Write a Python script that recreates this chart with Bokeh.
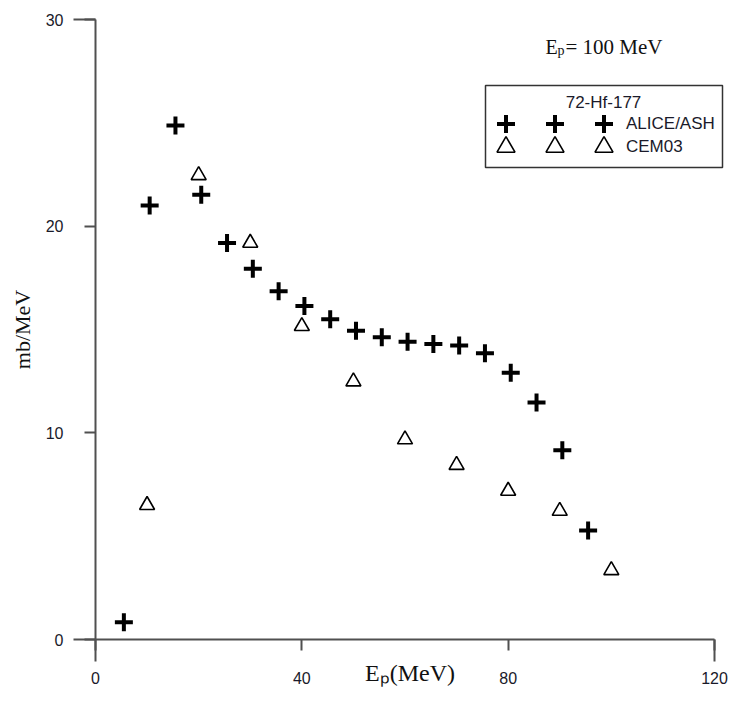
from bokeh.plotting import figure
from bokeh.models import FixedTicker, Range1d, Label, Legend, LegendItem, BoxAnnotation
from bokeh.embed import file_html
from bokeh.resources import INLINE

# ---- data ----
alice_x = [5.5, 10.5, 15.5, 20.5, 25.5, 30.5, 35.5, 40.5, 45.5, 50.5,
           55.5, 60.5, 65.5, 70.5, 75.5, 80.5, 85.5, 90.5, 95.5]
alice_y = [0.84, 21.0, 24.87, 21.52, 19.18, 17.94, 16.85, 16.14, 15.50, 14.94,
           14.62, 14.41, 14.30, 14.22, 13.85, 12.91, 11.47, 9.16, 5.28]
cem_x = [10, 20, 30, 40, 50, 60, 70, 80, 90, 100]
cem_y = [6.5, 22.46, 19.19, 15.16, 12.48, 9.68, 8.44, 7.19, 6.22, 3.35]
x_ticks = [0, 40, 80, 120]
y_ticks = [0, 10, 20, 30]
legend_title = "72-Hf-177"
series_names = ["ALICE/ASH", "CEM03"]

AX = "#505050"
TXT = "#1a1a2a"
SERIF = "Liberation Serif"
SANS = "Liberation Sans"

p = figure(width=728, height=715, output_backend="svg", toolbar_location=None,
           x_range=Range1d(0, 121.94), y_range=Range1d(0, 30),
           min_border_left=95, min_border_right=4, min_border_top=19,
           min_border_bottom=76)
p.outline_line_color = None
p.grid.visible = False
p.background_fill_color = "white"
p.border_fill_color = "white"

p.xaxis.ticker = FixedTicker(ticks=x_ticks, minor_ticks=[x_ticks[0], x_ticks[-1]])
p.yaxis.ticker = FixedTicker(ticks=y_ticks, minor_ticks=[y_ticks[0], y_ticks[-1]])
p.xaxis.bounds = (x_ticks[0], x_ticks[-1])
for ax in (p.xaxis, p.yaxis):
    ax.axis_line_color = AX
    ax.axis_line_width = 2
    ax.major_tick_line_color = AX
    ax.major_tick_line_width = 2
    ax.minor_tick_line_color = AX
    ax.minor_tick_line_width = 2
    ax.major_tick_in = 0
    ax.major_tick_out = 11
    ax.minor_tick_in = 0
    ax.minor_tick_out = 22
    ax.major_label_text_font = SANS
    ax.major_label_text_font_size = "16px"
    ax.major_label_text_color = TXT
    ax.axis_label_text_font = SERIF
    ax.axis_label_text_font_style = "normal"
    ax.axis_label_text_color = "#111"
p.xaxis.major_label_standoff = 10
p.yaxis.major_label_standoff = 10

p.yaxis.axis_label = "mb/MeV"
p.yaxis.axis_label_text_font_size = "22px"
p.yaxis.axis_label_standoff = 8
p.xaxis.axis_label = "E\u209a(MeV)"
p.xaxis.axis_label_text_font_size = "24px"
p.xaxis.axis_label_standoff = -27

r_a = p.scatter(alice_x, alice_y, marker="cross", size=18, line_width=4,
                line_color="black")
r_c = p.scatter(cem_x, cem_y, marker="triangle", size=15, line_width=1.6,
                line_color="black", fill_color=None)

# legend frame
p.add_layout(BoxAnnotation(left=390, right=627, bottom=472, top=554,
                           left_units="screen", right_units="screen",
                           bottom_units="screen", top_units="screen",
                           fill_color="white", fill_alpha=0.0,
                           line_color="#333", line_width=1.5, line_alpha=1.0))


def legend_row(renderer, name, loc):
    items = [LegendItem(label="", renderers=[renderer]),
             LegendItem(label="", renderers=[renderer]),
             LegendItem(label=name, renderers=[renderer])]
    return Legend(items=items, orientation="horizontal", ncols=3,
                  location=loc,
                  label_text_font=SANS, label_text_font_size="17px",
                  label_text_color=TXT,
                  glyph_width=45, glyph_height=45, label_height=20,
                  label_width=4, label_standoff=0, spacing=0, padding=0,
                  margin=0, border_line_color=None,
                  background_fill_alpha=0.0)


p.add_layout(legend_row(r_a, series_names[0], (388, 493)), "center")
p.add_layout(legend_row(r_c, series_names[1], (388, 470)), "center")

p.add_layout(Label(x=508, y=537, x_units="screen", y_units="screen",
                   text=legend_title, text_align="center", text_baseline="middle",
                   text_font=SANS, text_font_size="17px", text_color=TXT))

# annotation "Ep= 100 MeV"
p.add_layout(Label(x=450, y=593, x_units="screen", y_units="screen", text="E",
                   text_baseline="alphabetic", text_font=SERIF,
                   text_font_size="20px", text_color="#111"))
p.add_layout(Label(x=462, y=589, x_units="screen", y_units="screen", text="p",
                   text_baseline="alphabetic", text_font=SERIF,
                   text_font_size="14px", text_color="#111"))
p.add_layout(Label(x=470, y=593, x_units="screen", y_units="screen",
                   text="= 100 MeV", text_baseline="alphabetic", text_font=SERIF,
                   text_font_size="21px", text_color="#111"))

open("out.html", "w").write(file_html(p, INLINE))
